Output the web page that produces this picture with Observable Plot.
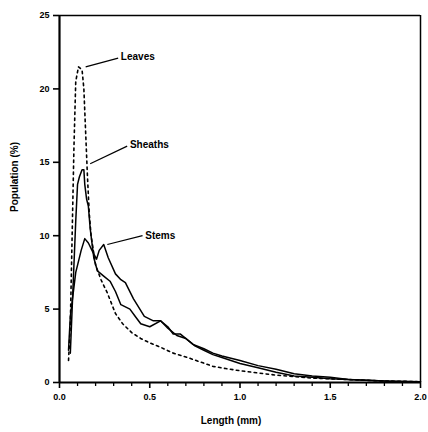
<!DOCTYPE html>
<html>
<head>
<meta charset="utf-8">
<script src="https://cdn.jsdelivr.net/npm/d3@7"></script>
<script src="https://cdn.jsdelivr.net/npm/@observablehq/plot@0.6"></script>
<style>
  html, body { margin: 0; padding: 0; background: #fff; }
  #chart svg { display: block; }
</style>
</head>
<body>
<div id="chart"></div>
<script>
const leavesX = [0.05, 0.06, 0.07, 0.08, 0.09, 0.105, 0.125, 0.135, 0.145, 0.155, 0.165, 0.175, 0.2, 0.23, 0.265, 0.31, 0.35, 0.4, 0.45, 0.5, 0.56, 0.63, 0.71, 0.78, 0.85, 0.92, 1.0, 1.1, 1.2, 1.3, 1.4, 1.5, 1.6, 1.7, 1.8, 1.9, 2.0];
const leavesY = [1.5, 4, 10, 16, 20.5, 21.5, 21.3, 20, 17, 14, 11.5, 10, 8, 7, 6.1, 4.7, 4.0, 3.4, 3.0, 2.7, 2.4, 2.0, 1.7, 1.4, 1.1, 0.95, 0.8, 0.65, 0.5, 0.4, 0.3, 0.25, 0.2, 0.15, 0.1, 0.08, 0.05];

const sheathsX = [0.06, 0.07, 0.08, 0.09, 0.1, 0.11, 0.125, 0.135, 0.14, 0.15, 0.16, 0.17, 0.18, 0.19, 0.21, 0.25, 0.28, 0.31, 0.34, 0.39, 0.42, 0.45, 0.5, 0.56, 0.6, 0.65, 0.7, 0.75, 0.8, 0.85, 0.9, 1.0, 1.1, 1.2, 1.3, 1.4, 1.5, 1.6, 1.7, 1.8, 1.9, 2.0];
const sheathsY = [2, 5, 8, 11, 13.5, 14, 14.5, 14.5, 13.5, 12.5, 12, 10.5, 9.5, 8.5, 7.6, 7.2, 6.9, 6.2, 5.3, 5.0, 4.5, 4.0, 3.8, 4.2, 3.7, 3.2, 3.0, 2.5, 2.2, 1.9, 1.7, 1.3, 1.0, 0.7, 0.45, 0.35, 0.25, 0.2, 0.15, 0.1, 0.05, 0.05];

const stemsX = [0.05, 0.06, 0.07, 0.08, 0.09, 0.1, 0.12, 0.14, 0.16, 0.18, 0.205, 0.22, 0.245, 0.27, 0.31, 0.34, 0.365, 0.41, 0.47, 0.52, 0.56, 0.6, 0.63, 0.67, 0.74, 0.8, 0.85, 0.9, 1.0, 1.1, 1.2, 1.3, 1.4, 1.5, 1.6, 1.7, 1.8, 1.9, 2.0];
const stemsY = [2.2, 4.5, 5.5, 6.5, 7.5, 8, 9, 9.8, 9.5, 9, 8.4, 9.0, 9.4, 8.5, 7.4, 7.0, 6.8, 5.7, 4.5, 4.2, 4.2, 3.8, 3.3, 3.3, 2.6, 2.3, 2.0, 1.8, 1.5, 1.15, 0.9, 0.6, 0.45, 0.35, 0.2, 0.15, 0.1, 0.08, 0.05];

const xTicks = [0, 0.5, 1.0, 1.5, 2.0];
const xMinorTicks = [0.1,0.2,0.3,0.4,0.6,0.7,0.8,0.9,1.1,1.2,1.3,1.4,1.6,1.7,1.8,1.9];
const yTicks = [0, 5, 10, 15, 20, 25];

const labelNames = ["Leaves", "Sheaths", "Stems"];
const labelX = [0.34, 0.39, 0.475];
const labelY = [22.2, 16.2, 10.0];
const leaderFromX = [0.145, 0.17, 0.265];
const leaderFromY = [21.5, 14.9, 9.4];
const leaderToX = [0.325, 0.375, 0.46];
const leaderToY = [22.1, 16.1, 10.0];

const toRows = (xs, ys) => xs.map((x, i) => ({x, y: ys[i]}));
const leaves = toRows(leavesX, leavesY);
const sheaths = toRows(sheathsX, sheathsY);
const stems = toRows(stemsX, stemsY);
const labels = labelNames.map((name, i) => ({name, x: labelX[i], y: labelY[i]}));
const leaders = labelNames.map((name, i) => ({x1: leaderFromX[i], y1: leaderFromY[i], x2: leaderToX[i], y2: leaderToY[i]}));

const chart = Plot.plot({
  width: 428,
  height: 432,
  marginLeft: 59,
  marginRight: 8,
  marginTop: 15,
  marginBottom: 50,
  style: {fontFamily: "Liberation Sans, Arial, sans-serif", fontSize: "9px", fontWeight: "bold", color: "#000", background: "#fff"},
  x: {domain: [0, 2], ticks: xTicks, tickFormat: d3.format(".1f")},
  y: {domain: [0, 25], ticks: yTicks},
  marks: [
    Plot.ruleX(xMinorTicks, {y: 0, insetBottom: -4, stroke: "#000", strokeWidth: 1.3}),
    Plot.ruleX(xTicks, {y: 0, insetBottom: -6, stroke: "#000", strokeWidth: 1.6}),
    Plot.ruleY(yTicks, {x: 0, insetLeft: -6, stroke: "#000", strokeWidth: 1.6}),
    Plot.axisX(xTicks, {tickSize: 0, tickPadding: 11, tickFormat: d3.format(".1f"), label: null}),
    Plot.axisY(yTicks, {tickSize: 0, tickPadding: 10, label: null}),
    Plot.ruleX([2], {strokeWidth: 1.5}),
    Plot.ruleY([25], {strokeWidth: 1.5}),
    Plot.ruleX([0], {strokeWidth: 2.2}),
    Plot.ruleY([0], {strokeWidth: 2.2}),
    Plot.line(leaves, {x: "x", y: "y", stroke: "#000", strokeWidth: 1.6, strokeDasharray: "2.5,3.5"}),
    Plot.line(sheaths, {x: "x", y: "y", stroke: "#000", strokeWidth: 1.5}),
    Plot.line(stems, {x: "x", y: "y", stroke: "#000", strokeWidth: 1.5}),
    Plot.link(leaders, {x1: "x1", y1: "y1", x2: "x2", y2: "y2", stroke: "#000", strokeWidth: 1.2}),
    Plot.text(labels, {x: "x", y: "y", text: "name", textAnchor: "start", fontSize: 10, fontWeight: "bold"}),
    Plot.text(["Length (mm)"], {x: 0.95, frameAnchor: "bottom", dy: 41, fontSize: 10, fontWeight: "bold"}),
    Plot.text(["Population (%)"], {frameAnchor: "left", dx: -45, dy: 13, rotate: -90, fontSize: 10, fontWeight: "bold"})
  ]
});
document.getElementById("chart").appendChild(chart);
</script>
</body>
</html>
